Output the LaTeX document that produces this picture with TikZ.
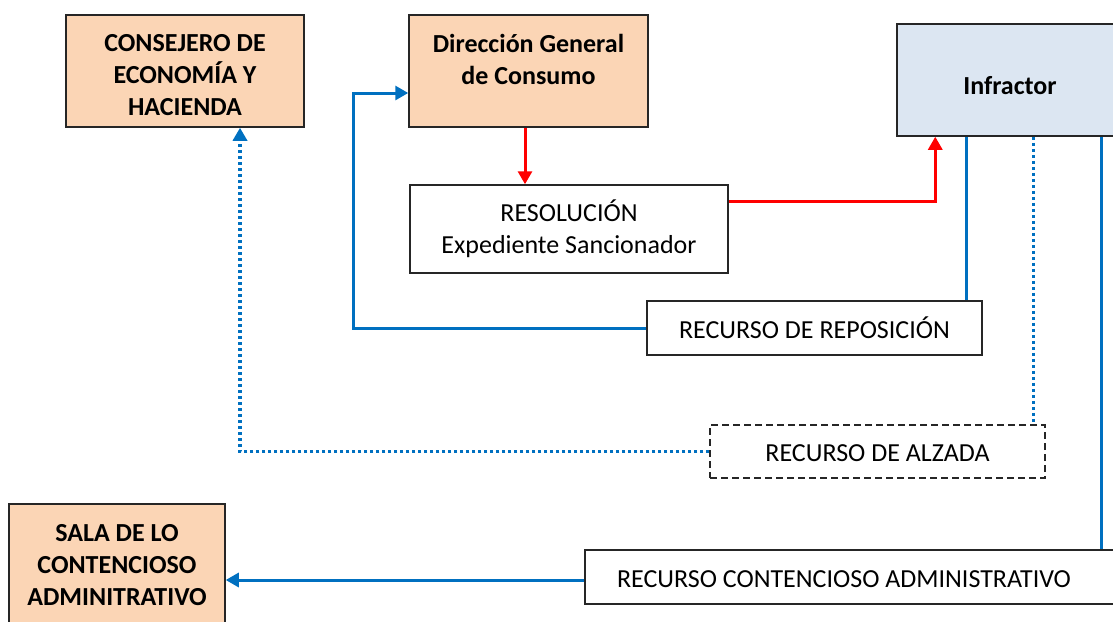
\documentclass[tikz,border=0pt]{standalone}
\usepackage{fontspec}
\setmainfont{Carlito}
\usepackage{xcolor}
\usetikzlibrary{arrows.meta, calc}

\definecolor{peach}{HTML}{FBD5B5}
\definecolor{paleblue}{HTML}{DCE6F2}
\definecolor{lineblue}{HTML}{0070C0}

\newcommand{\toprule}[1]{\rule{0pt}{#1pt}} % pushes a text down in its box

\begin{document}
\begin{tikzpicture}[x=1pt, y=-1pt,
        box/.style={draw=black!85, line width=1.5pt, align=center, inner sep=0pt,
            font=\fontsize{26}{32}\selectfont},
        organ/.style={box, fill=peach, font=\fontsize{26}{32}\selectfont\bfseries},
        bluelink/.style={draw=lineblue, line width=3pt},
        redlink/.style={draw=red, line width=3pt},
        dotlink/.style={draw=lineblue, line width=3.5pt, dash pattern=on 3pt off 3pt},
        tip/.style={-{Triangle[length=13pt, width=14pt]}}]
                \useasboundingbox (0,0) rectangle (1113,621);

                % boxes
                \node[organ, minimum width=238pt, minimum height=112pt] (consejo) at (185,71)
                    {\toprule{26}CONSEJERO DE\\ECONOMÍA Y\\HACIENDA};
                \node[organ, minimum width=239pt, minimum height=112pt] (direccion) at (528.5,71)
                    {\toprule{26}Dirección General\\de Consumo\\\mbox{}};
                \node[box, fill=paleblue, font=\fontsize{26}{32}\selectfont\bfseries,
                    minimum width=226pt, minimum height=112pt] (infractor) at (1010,80) {\toprule{29}Infractor};
                \node[box, minimum width=318pt, minimum height=88pt] (resolucion) at (569,229)
                    {RESOLUCIÓN\\Expediente Sancionador};
                \node[box, minimum width=335pt, minimum height=54pt] (reposicion) at (814.5,328)
                    {RECURSO DE REPOSICIÓN};
                \node[box, dash pattern=on 7pt off 4pt, minimum width=335pt, minimum height=53pt]
                    (alzada) at (877.5,451.5) {\toprule{21}RECURSO DE ALZADA};
                \node[organ, minimum width=216pt, minimum height=122pt] (sala) at (117,565)
                    {SALA DE LO\\CONTENCIOSO\\ADMINITRATIVO};
                \node[box, minimum width=545pt, minimum height=54pt] (contencioso) at (857.5,577)
                    {\toprule{22}RECURSO CONTENCIOSO ADMINISTRATIVO\hspace*{27pt}};

                % points under the Infractor box
                \foreach \name/\dx in {redin/39, repout/70, alzout/137, contout/205}
                    \coordinate (\name) at ($(infractor.south west)+(\dx,0)$);

                % red path
                \draw[redlink, tip] (direccion.south -| 525,0) -- (resolucion.north -| 525,0);
                \draw[redlink, tip] ([yshift=28pt]resolucion.east) -| (redin);

                % recurso de reposicion
                \draw[bluelink] (repout) -- (repout |- reposicion.north);
                \draw[bluelink, tip] (reposicion.west) -- ++(-293,0) |- ([yshift=-22pt]direccion.west);

                % recurso de alzada
                \draw[dotlink] (alzout) -- (alzout |- alzada.north);
                \draw[dotlink, tip] (alzada.west) -| ([xshift=55pt]consejo.south);

                % recurso contencioso
                \draw[bluelink] (contout) -- (contout |- contencioso.north);
                \draw[bluelink, tip] ([yshift=-3pt]contencioso.west) -- ([yshift=-3pt]contencioso.west -| sala.east);
            \end{tikzpicture}
\end{document}
